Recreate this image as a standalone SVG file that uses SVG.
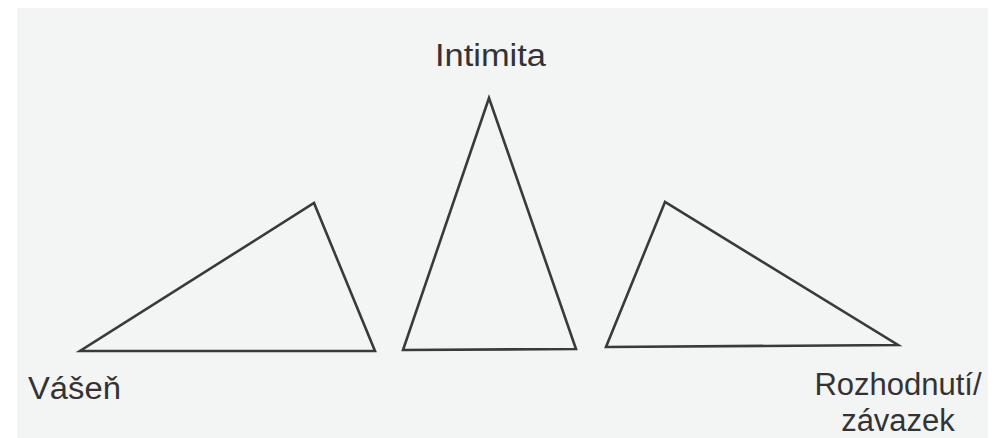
<svg xmlns="http://www.w3.org/2000/svg" width="998" height="438" viewBox="0 0 998 438">
  <style>
    .tri { fill: none; stroke: #3a3a3a; stroke-width: 2.6; stroke-linejoin: miter; }
    .lbl { font-family: "Liberation Sans", Arial, sans-serif; font-size: 31px; fill: #333333; }
  </style>
  <rect x="0" y="0" width="998" height="438" fill="#ffffff"/>
  <rect x="17" y="8" width="971" height="430" fill="#f3f4f4"/>
  <g id="vasen">
    <polygon class="tri" points="80,351 375,351 314,203"/>
    <text class="lbl" x="28" y="399" textLength="93" lengthAdjust="spacingAndGlyphs">Vášeň</text>
  </g>
  <g id="intimita">
    <polygon class="tri" points="489,98 403,350 576,349"/>
    <text class="lbl" x="435" y="66" font-size="28" textLength="111" lengthAdjust="spacingAndGlyphs">Intimita</text>
  </g>
  <g id="rozhodnuti">
    <polygon class="tri" points="665,202 606,347 898,345"/>
    <text class="lbl" text-anchor="middle" x="898" y="395">Rozhodnutí/</text>
    <text class="lbl" text-anchor="middle" x="898" y="431">závazek</text>
  </g>
</svg>
